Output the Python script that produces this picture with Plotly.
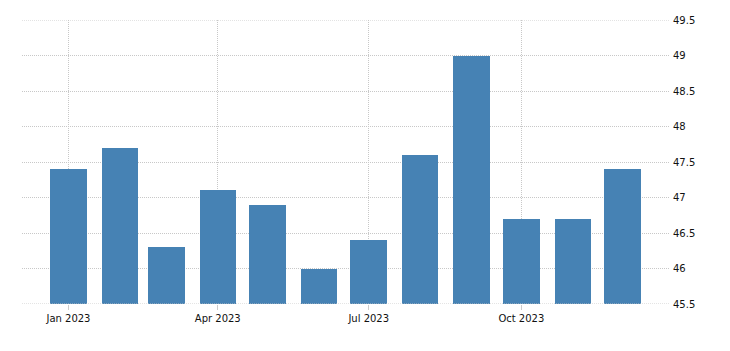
import plotly.graph_objects as go

months = ["2023-01-01", "2023-02-01", "2023-03-01", "2023-04-01", "2023-05-01", "2023-06-01",
          "2023-07-01", "2023-08-01", "2023-09-01", "2023-10-01", "2023-11-01", "2023-12-01"]
values = [47.4, 47.7, 46.3, 47.1, 46.9, 46.0, 46.4, 47.6, 49.0, 46.7, 46.7, 47.4]
tick_vals = ["2023-01-01", "2023-04-01", "2023-07-01", "2023-10-01"]
tick_text = ["Jan 2023", "Apr 2023", "Jul 2023", "Oct 2023"]
y_ticks = [45.5, 46, 46.5, 47, 47.5, 48, 48.5, 49, 49.5]
y_text = ["45.5", "46", "46.5", "47", "47.5", "48", "48.5", "49", "49.5"]

fig = go.Figure(go.Bar(
    x=months, y=values,
    marker=dict(color="#4682B4", line=dict(width=0)),
    width=22 * 86400000,
))

# edge gridlines (plotly clips gridlines that sit on the plot edges)
for yv in (y_ticks[0], y_ticks[-1]):
    fig.add_shape(type="line", xref="paper", x0=0, x1=1, yref="y", y0=yv, y1=yv,
                  line=dict(color="#c8c8c8", width=1, dash="1px,1px"), layer="above")

fig.update_layout(
    width=730, height=351,
    margin=dict(l=22, r=61, t=20, b=47),
    paper_bgcolor="white", plot_bgcolor="white",
    showlegend=False,
    bargap=0,
    font=dict(family="DejaVu Sans", size=10, color="#111"),
)
fig.update_xaxes(
    type="date",
    range=["2022-12-04", "2023-12-29"],
    tickvals=tick_vals, ticktext=tick_text,
    showgrid=True, gridcolor="#c8c8c8", griddash="1px,1px", gridwidth=1,
    ticks="outside", ticklen=5, tickcolor="#cccccc",
    showline=False, zeroline=False,
)
fig.update_yaxes(
    side="right",
    range=[45.5, 49.5],
    tickvals=y_ticks, ticktext=y_text,
    showgrid=True, gridcolor="#c8c8c8", griddash="1px,1px", gridwidth=1,
    ticks="", ticklabelstandoff=3,
    showline=False, zeroline=False,
)

fig.write_html("out.html")
